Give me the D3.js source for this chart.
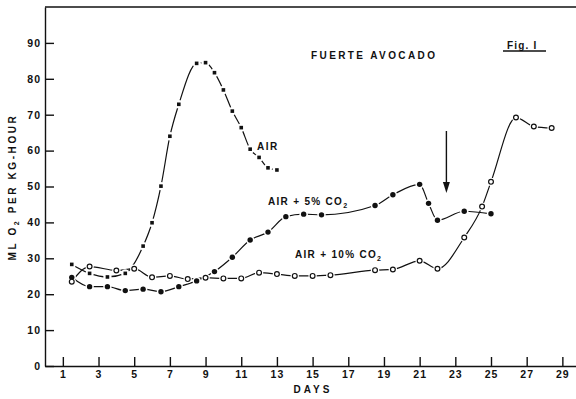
<!DOCTYPE html>
<html>
<head>
<meta charset="utf-8">
<script src="https://cdn.jsdelivr.net/npm/d3@7"></script>
<style>
  body { margin: 0; background: #fff; }
  text { font-family: "Liberation Sans", Arial, sans-serif; font-weight: bold; fill: #111; }
  .axis path, .axis line { stroke: #111; stroke-width: 1.4; }
  .axis text { font-size: 10.5px; letter-spacing: 1px; }
</style>
</head>
<body>
<svg id="chart1"></svg>
<script>
let w = 576;
let h = 399;

// (day, ml O2 per kg-hour)
let airDays = [1.5, 2.5, 3.5, 4.5, 5.5, 6, 6.5, 7, 7.5, 8.5, 9, 9.5, 10, 10.5, 11, 11.5, 12, 12.5, 13];
let airVals = [28.3, 25.8, 24.8, 25.8, 33.4, 39.9, 50.1, 64, 72.9, 84.3, 84.5, 81.7, 76.9, 71.0, 66.4, 60.4, 58.1, 55.2, 54.6];

let co2FiveDays = [1.5, 2.5, 3.5, 4.5, 5.5, 6.5, 7.5, 8.5, 9.5, 10.5, 11.5, 12.5, 13.5, 14.5, 15.5, 18.5, 19.5, 21, 21.5, 22, 23.5, 25];
let co2FiveVals = [24.7, 22.1, 22.1, 21.0, 21.4, 20.7, 22.1, 23.7, 26.3, 30.3, 35.1, 37.3, 41.6, 42.3, 42.1, 44.7, 47.7, 50.6, 45.3, 40.6, 43.1, 42.4];

let co2TenDays = [1.5, 2.5, 4, 5, 6, 7, 8, 9, 10, 11, 12, 13, 14, 15, 16, 18.5, 19.5, 21, 22, 23.5, 24.5, 25, 26.4, 27.4, 28.4];
let co2TenVals = [23.5, 27.7, 26.6, 27.1, 24.7, 25.1, 24.2, 24.6, 24.4, 24.4, 26.0, 25.6, 25.1, 25.1, 25.3, 26.7, 26.9, 29.3, 27.1, 35.8, 44.4, 51.3, 69.2, 66.7, 66.3];

let xTicks = [1, 3, 5, 7, 9, 11, 13, 15, 17, 19, 21, 23, 25, 27, 29];
let yTicks = [0, 10, 20, 30, 40, 50, 60, 70, 80, 90];

let arrowDay = 22.5;

let toPoints = (days, vals) => days.map((d, i) => ({ day: d, val: vals[i] }));
let air = toPoints(airDays, airVals);
let co2Five = toPoints(co2FiveDays, co2FiveVals);
let co2Ten = toPoints(co2TenDays, co2TenVals);

let svg = d3.select('#chart1').attr('width', w).attr('height', h);

let xScale = d3.scaleLinear().domain([0, 30]).range([45, 580.2]);
let yScale = d3.scaleLinear().domain([0, 100]).range([366, 7]);

// top frame line
svg.append('line')
  .attr('x1', xScale(0)).attr('x2', w)
  .attr('y1', yScale(100)).attr('y2', yScale(100))
  .attr('stroke', '#111').attr('stroke-width', 1.4);

let xAxis = d3.axisBottom(xScale).tickValues(xTicks).tickSize(-9).tickSizeOuter(0).tickPadding(5);
let yAxis = d3.axisLeft(yScale).tickValues(yTicks).tickSize(-9).tickSizeOuter(0).tickPadding(4);

svg.append('g')
  .attr('class', 'axis')
  .attr('transform', `translate(0, ${yScale(0)})`)
  .call(xAxis);

svg.append('g')
  .attr('class', 'axis')
  .attr('transform', `translate(${xScale(0)}, 0)`)
  .call(yAxis);

let line = d3.line()
  .x((d) => xScale(d.day))
  .y((d) => yScale(d.val))
  .curve(d3.curveMonotoneX);

[air, co2Five, co2Ten].forEach((s) => {
  svg.append('path')
    .datum(s)
    .attr('d', line)
    .attr('fill', 'none')
    .attr('stroke', '#111')
    .attr('stroke-width', 1.2);
});

// white halos so the curves break around the points
svg.append('g').selectAll('circle')
  .data(air.concat(co2Five, co2Ten))
  .enter()
  .append('circle')
  .attr('cx', (d) => xScale(d.day))
  .attr('cy', (d) => yScale(d.val))
  .attr('r', 4.2)
  .attr('fill', '#fff');

svg.append('g').selectAll('rect')
  .data(air)
  .enter()
  .append('rect')
  .attr('x', (d) => xScale(d.day) - 1.8)
  .attr('y', (d) => yScale(d.val) - 1.8)
  .attr('width', 3.6)
  .attr('height', 3.6)
  .attr('fill', '#111');

svg.append('g').selectAll('circle')
  .data(co2Five)
  .enter()
  .append('circle')
  .attr('cx', (d) => xScale(d.day))
  .attr('cy', (d) => yScale(d.val))
  .attr('r', 2.7)
  .attr('fill', '#111');

svg.append('g').selectAll('circle')
  .data(co2Ten)
  .enter()
  .append('circle')
  .attr('cx', (d) => xScale(d.day))
  .attr('cy', (d) => yScale(d.val))
  .attr('r', 2.4)
  .attr('fill', '#fff')
  .attr('stroke', '#111')
  .attr('stroke-width', 1.2);

// arrow
svg.append('line')
  .attr('x1', xScale(arrowDay)).attr('x2', xScale(arrowDay))
  .attr('y1', 131).attr('y2', 185)
  .attr('stroke', '#111').attr('stroke-width', 1.4);
svg.append('path')
  .attr('d', `M${xScale(arrowDay) - 3.5},182 L${xScale(arrowDay) + 3.5},182 L${xScale(arrowDay)},193 Z`)
  .attr('fill', '#111');

// labels
let label = (x, y, txt, size, spacing) => svg.append('text')
  .attr('x', x).attr('y', y)
  .style('font-size', size + 'px')
  .style('letter-spacing', spacing + 'px')
  .text(txt);

label(311, 59, 'FUERTE  AVOCADO', 10, 2.4);
label(507, 48.5, 'Fig. I', 10, 1.2);
svg.append('line')
  .attr('x1', 503).attr('x2', 546).attr('y1', 51).attr('y2', 51)
  .attr('stroke', '#111').attr('stroke-width', 1.5);

label(257, 150, 'AIR', 10, 1.5);

let co2Label = (x, y, txt) => {
  let t = label(x, y, txt, 10, 1.3);
  t.append('tspan').attr('dy', 3).style('font-size', '7px').text('2');
};
co2Label(268, 205, 'AIR + 5% CO');
co2Label(295, 258, 'AIR + 10% CO');

svg.append('text')
  .attr('x', 313).attr('y', 393)
  .attr('text-anchor', 'middle')
  .style('font-size', '10px')
  .style('letter-spacing', '3px')
  .text('DAYS');

let yLab = svg.append('text')
  .attr('transform', 'translate(16, 187) rotate(-90)')
  .attr('text-anchor', 'middle')
  .style('font-size', '10px')
  .style('letter-spacing', '2.6px');
yLab.append('tspan').text('ML O');
yLab.append('tspan').attr('dy', 3).style('font-size', '7px').text('2');
yLab.append('tspan').attr('dy', -3).text(' PER KG-HOUR');
</script>
</body>
</html>
